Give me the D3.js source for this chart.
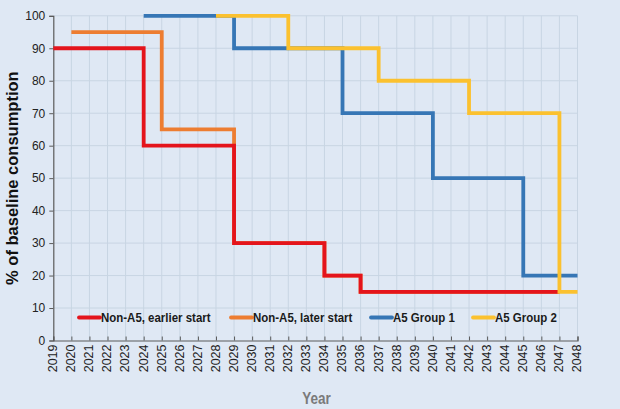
<!DOCTYPE html>
<html>
<head>
<meta charset="utf-8">
<script src="https://cdn.jsdelivr.net/npm/d3@7"></script>
<style>
  html, body { margin: 0; padding: 0; background: #dfe8f4; }
  svg { display: block; }
  text { font-family: "Liberation Sans", Arial, sans-serif; }
</style>
</head>
<body>
<svg id="chart" width="620" height="409"></svg>
<script>
// ---- data ----
const yearTicks = [2019,2020,2021,2022,2023,2024,2025,2026,2027,2028,2029,2030,2031,2032,2033,2034,2035,2036,2037,2038,2039,2040,2041,2042,2043,2044,2045,2046,2047,2048];
const valueTicks = [0,10,20,30,40,50,60,70,80,90,100];
const seriesNames = ["Non-A5, earlier start", "Non-A5, later start", "A5 Group 1", "A5 Group 2"];
const nonA5EarlyYears = [2019, 2024, 2029, 2034, 2036, 2047];
const nonA5EarlyValues = [90, 60, 30, 20, 15, 15];
const nonA5LateYears = [2020, 2025, 2029, 2034, 2036, 2047];
const nonA5LateValues = [95, 65, 30, 20, 15, 15];
const a5Group1Years = [2024, 2029, 2035, 2040, 2045, 2048];
const a5Group1Values = [100, 90, 70, 50, 20, 20];
const a5Group2Years = [2028, 2032, 2037, 2042, 2047, 2048];
const a5Group2Values = [100, 90, 80, 70, 15, 15];
const colors = ["#e4141c", "#ed7d31", "#3676b5", "#fbc12f"];

// ---- layout ----
const svg = d3.select("#chart");
const mLeft = 53.3, mRight = 577.5, mTop = 15.8, mBottom = 340.5;
const x = d3.scaleLinear().domain([2019, 2048]).range([mLeft, mRight]);
const y = d3.scaleLinear().domain([0, 100]).range([mBottom, mTop]);

// grid
const grid = svg.append("g");
grid.selectAll("line.v").data(yearTicks.slice(1)).join("line")
  .attr("x1", d => x(d)).attr("x2", d => x(d)).attr("y1", y(100)).attr("y2", y(0))
  .attr("stroke", "#c8d5e3").attr("stroke-width", 1);
grid.selectAll("line.h").data(valueTicks.slice(1)).join("line")
  .attr("x1", x(2019)).attr("x2", x(2048)).attr("y1", d => y(d)).attr("y2", d => y(d))
  .attr("stroke", "#c8d5e3").attr("stroke-width", 1);

// axes
const yAxis = svg.append("g").attr("transform", `translate(${mLeft},0)`)
  .call(d3.axisLeft(y).tickValues(valueTicks).tickSize(4).tickPadding(4));
yAxis.select(".domain").attr("stroke", "#5a5a5a").attr("stroke-width", 1.2);
yAxis.selectAll(".tick line").attr("stroke", "#5a5a5a");
yAxis.selectAll(".tick text").attr("font-size", 12).attr("fill", "#222")
  .attr("font-family", "'Liberation Sans', Arial, sans-serif");

const xAxis = svg.append("g").attr("transform", `translate(0,${mBottom})`)
  .call(d3.axisBottom(x).tickValues(yearTicks).tickFormat(d3.format("d")).tickSize(-4).tickPadding(0));
xAxis.select(".domain").attr("stroke", "#5a5a5a").attr("stroke-width", 1.2);
xAxis.selectAll(".tick line").attr("stroke", "#5a5a5a");
xAxis.selectAll(".tick text")
  .attr("font-size", 12.5).attr("fill", "#222")
  .attr("font-family", "'Liberation Sans', Arial, sans-serif")
  .attr("text-anchor", "end").attr("dy", "0.35em").attr("y", 0)
  .attr("transform", "translate(-1,4) rotate(-90)");

// series lines
const seriesData = [
  {years: nonA5EarlyYears, values: nonA5EarlyValues, color: colors[0]},
  {years: nonA5LateYears, values: nonA5LateValues, color: colors[1]},
  {years: a5Group1Years, values: a5Group1Values, color: colors[2]},
  {years: a5Group2Years, values: a5Group2Values, color: colors[3]}
];
const line = d3.line().curve(d3.curveStepAfter).x(d => x(d[0])).y(d => y(d[1]));
const drawOrder = [1, 0, 2, 3];
drawOrder.forEach(i => {
  const s = seriesData[i];
  const pts = s.years.map((yr, k) => [yr, s.values[k]]);
  svg.append("path").datum(pts).attr("d", line)
    .attr("fill", "none").attr("stroke", s.color).attr("stroke-width", 3.8)
    .attr("stroke-linejoin", "miter");
});

// legend
const legendX = [78, 230, 370, 472];
const legendY = 317.5;
const lg = svg.append("g");
seriesNames.forEach((name, i) => {
  lg.append("line").attr("x1", legendX[i] + 1).attr("x2", legendX[i] + 22)
    .attr("y1", legendY).attr("y2", legendY)
    .attr("stroke", colors[i]).attr("stroke-width", 3.8).attr("stroke-linecap", "round");
  lg.append("text").attr("transform", `translate(${legendX[i] + 23},${legendY}) scale(0.85,1)`)
    .attr("dy", "0.36em").attr("font-size", 13.5).attr("font-weight", "bold").attr("fill", "#1a1a1a")
    .text(name);
});

// axis titles
svg.append("text").attr("transform", `translate(12,${(mTop + mBottom) / 2}) rotate(-90)`)
  .attr("text-anchor", "middle").attr("dy", "0.35em")
  .attr("font-size", 16.5).attr("font-weight", "bold").attr("fill", "#111")
  .text("% of baseline consumption");
svg.append("text").attr("transform", `translate(316.5,398) scale(0.82,1)`)
  .attr("text-anchor", "middle").attr("dy", "0.35em")
  .attr("font-size", 16.5).attr("font-weight", "bold").attr("fill", "#7a7a7a")
  .text("Year");
</script>
</body>
</html>
